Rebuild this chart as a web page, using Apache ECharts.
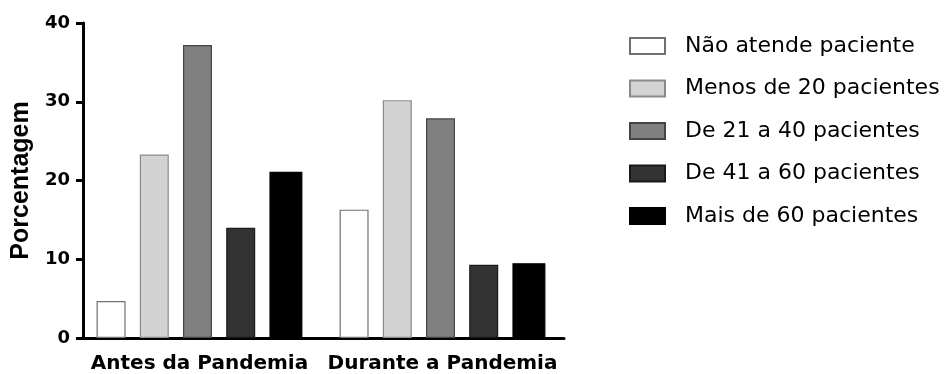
<!DOCTYPE html>
<html>
<head>
<meta charset="utf-8">
<script src="https://cdn.jsdelivr.net/npm/echarts@6/dist/echarts.min.js"></script>
<style>
html,body{margin:0;padding:0;background:#fff;}
#c{width:952px;height:374px;}
</style>
</head>
<body>
<div id="c"></div>
<script>
const categories = ['Antes da Pandemia', 'Durante a Pandemia'];
const seriesNames = ['Não atende paciente', 'Menos de 20 pacientes', 'De 21 a 40 pacientes', 'De 41 a 60 pacientes', 'Mais de 60 pacientes'];
const naoAtende = [4.7, 16.3];
const menos20 = [23.3, 30.2];
const de21a40 = [37.2, 27.9];
const de41a60 = [14.0, 9.3];
const mais60 = [21.1, 9.5];
const yTicks = [0, 10, 20, 30, 40];
const yTitle = 'Porcentagem';

const values = [naoAtende, menos20, de21a40, de41a60, mais60];
const fills = ['#ffffff', '#d3d3d3', '#808080', '#333333', '#000000'];
const borders = ['#707070', '#8a8a8a', '#444444', '#1a1a1a', '#000000'];

const chart = echarts.init(document.getElementById('c'), null, {renderer: 'canvas'});
chart.setOption({
  animation: false,
  backgroundColor: '#ffffff',
  grid: {left: 78, top: 23, width: 486, bottom: 34, containLabel: false},
  legend: {
    orient: 'vertical',
    left: 629,
    top: 35,
    padding: 0,
    itemWidth: 35,
    itemHeight: 16,
    itemGap: 20.5,
    icon: 'rect',
    data: seriesNames,
    textStyle: {fontFamily: 'DejaVu Sans', fontSize: 22, color: '#000', lineHeight: 22, padding: [0, 0, 0, 15]}
  },
  xAxis: {
    type: 'category',
    data: categories,
    axisLine: {lineStyle: {color: '#000', width: 3}},
    axisTick: {alignWithLabel: true, length: 8, lineStyle: {color: '#000', width: 3}},
    axisLabel: {interval: 0, hideOverlap: false, fontFamily: 'DejaVu Sans', fontWeight: 'bold', fontSize: 20, color: '#000', margin: 16},
    splitLine: {show: false}
  },
  yAxis: {
    type: 'value',
    min: yTicks[0],
    max: yTicks[yTicks.length - 1],
    interval: yTicks[1] - yTicks[0],
    offset: -5,
    name: yTitle,
    nameLocation: 'middle',
    nameRotate: 90,
    nameGap: 43,
    nameTextStyle: {fontFamily: 'Liberation Sans', fontWeight: 'bold', fontSize: 25, color: '#000'},
    axisLine: {show: true, lineStyle: {color: '#000', width: 3}},
    axisTick: {show: true, length: 7, lineStyle: {color: '#000', width: 3}},
    axisLabel: {fontFamily: 'DejaVu Sans', fontWeight: 'bold', fontSize: 18, color: '#000', margin: 13},
    splitLine: {show: false}
  },
  series: seriesNames.map((n, i) => ({
    name: n,
    type: 'bar',
    data: values[i],
    barWidth: i === 4 ? 33 : 29,
    barGap: '49%',
    itemStyle: {color: fills[i], borderColor: borders[i], borderWidth: 1.2}
  }))
});
</script>
</body>
</html>
